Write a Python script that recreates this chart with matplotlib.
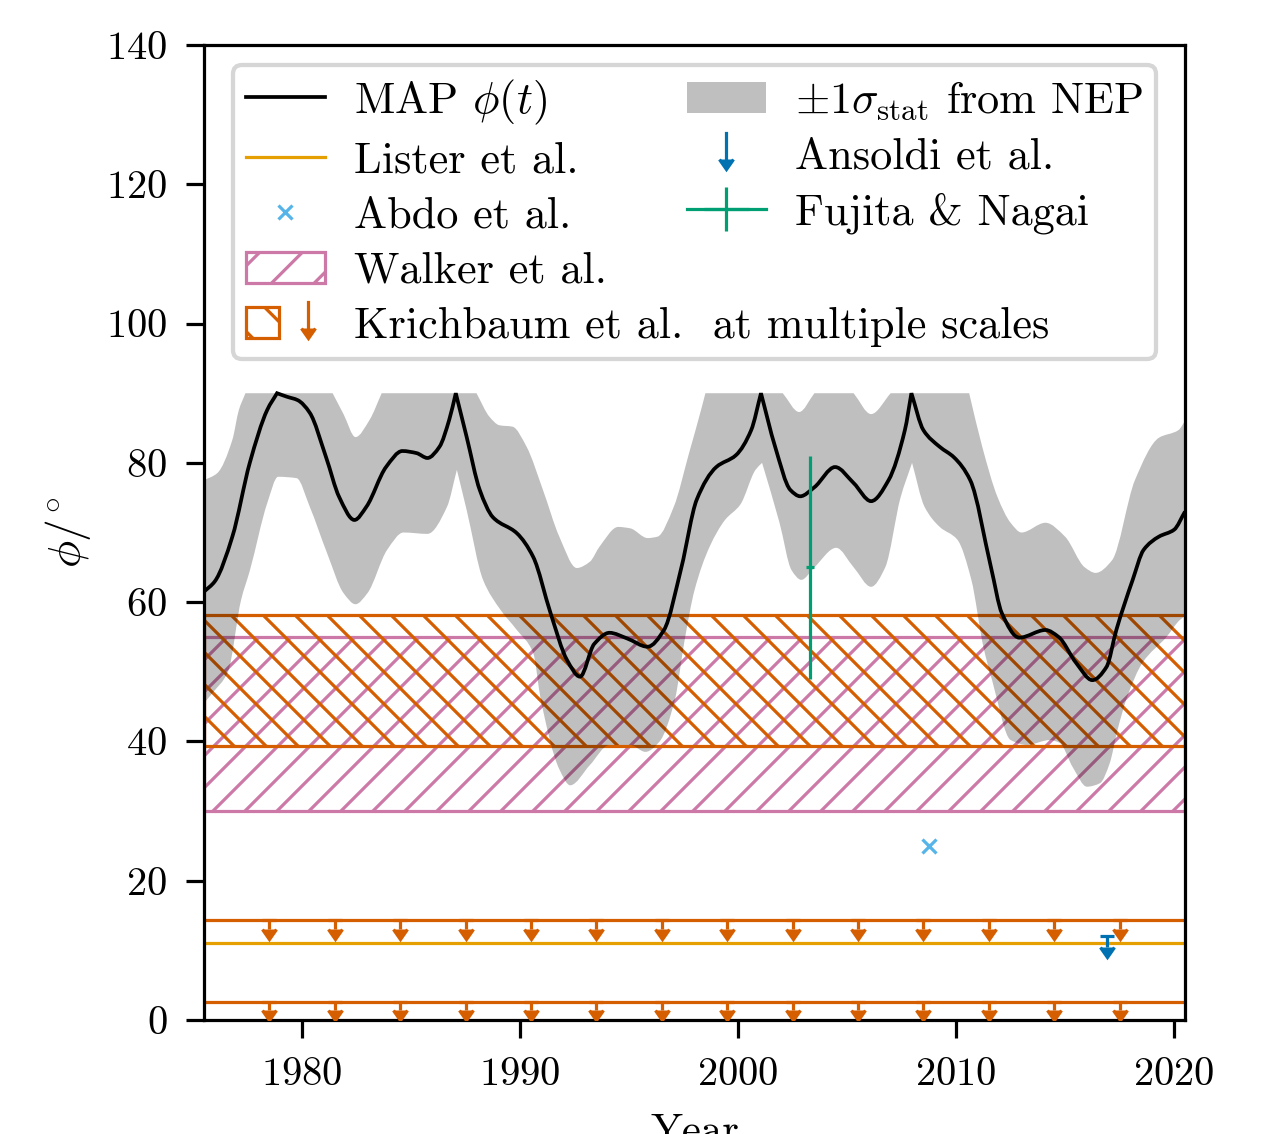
import numpy as np
import matplotlib
matplotlib.use("Agg")
import matplotlib.pyplot as plt
import matplotlib.lines as mlines
import matplotlib.patches as mpatches
from matplotlib.path import Path
from matplotlib.legend_handler import HandlerBase, HandlerTuple

# ---------------- data ----------------
map_years = [1975.5, 1976.0, 1976.8, 1977.6, 1978.4, 1978.85, 1979.3, 1979.8, 1980.35, 1981.1,
             1981.7, 1982.4, 1982.95, 1983.85, 1984.6, 1985.25, 1985.75, 1986.3, 1986.75, 1987.05,
             1987.55, 1988.15, 1988.75, 1989.85, 1990.6, 1991.4, 1992.15, 1992.75, 1993.4, 1994.1,
             1994.9, 1995.85, 1996.6, 1997.4, 1998.1, 1999.0, 1999.9, 2000.6, 2001.05, 2001.7,
             2002.4, 2002.85, 2003.5, 2004.45, 2005.3, 2006.1, 2006.9, 2007.65, 2007.95, 2008.5,
             2009.25, 2009.9, 2010.65, 2011.6, 2012.1, 2012.9, 2014.1, 2014.7, 2015.5, 2016.25,
             2016.9, 2017.35, 2018.1, 2018.6, 2019.3, 2020.0, 2020.5]
map_phi = [61.5, 63.0, 69.4, 80.0, 87.6, 90.0, 89.5, 89.0, 87.2, 80.8,
           75.1, 71.8, 73.7, 79.4, 81.7, 81.4, 80.7, 82.3, 86.2, 90.0,
           83.7, 76.1, 72.2, 69.9, 66.5, 58.4, 51.7, 49.3, 54.0, 55.6,
           54.8, 53.6, 56.0, 65.0, 74.7, 79.4, 81.1, 84.7, 90.0, 82.3,
           76.1, 75.2, 76.5, 79.4, 77.1, 74.5, 77.5, 84.7, 90.0, 84.7,
           82.3, 80.8, 77.5, 65.0, 58.4, 54.9, 56.0, 55.0, 51.3, 48.8,
           50.7, 56.0, 63.2, 67.5, 69.4, 70.4, 73.0]

upper_years = [1975.5, 1976.1, 1976.8, 1977.1, 1977.4, 1981.4, 1981.9, 1982.45, 1983.1, 1983.65,
               1988.0, 1988.6, 1989.05, 1989.65, 1990.3, 1991.05, 1991.8, 1992.6, 1993.2, 1993.65,
               1994.5, 1995.05, 1995.85, 1996.3, 1997.05, 1997.75, 1998.3, 1998.5, 2002.05, 2002.8,
               2003.5, 2005.3, 2006.1, 2007.0, 2010.6, 2011.2, 2011.9, 2012.5, 2013.0, 2014.1,
               2015.0, 2015.9, 2016.4, 2017.15, 2018.2, 2019.3, 2020.2, 2020.5]
upper_phi = [77.5, 78.5, 83.3, 87.6, 90.0, 90.0, 87.0, 83.7, 86.2, 90.0,
             90.0, 86.6, 85.4, 85.2, 82.3, 76.1, 69.4, 64.9, 65.8, 68.0,
             70.8, 70.6, 69.2, 69.4, 73.7, 81.4, 87.6, 90.0, 90.0, 87.3,
             90.0, 90.0, 87.0, 90.0, 90.0, 82.3, 75.1, 71.4, 70.0, 71.4,
             69.4, 65.0, 64.2, 66.0, 77.5, 83.6, 84.7, 86.0]

lower_years = [1975.5, 1975.9, 1976.6, 1977.2, 1977.6, 1978.4, 1978.9, 1979.75, 1980.35, 1981.15,
               1981.9, 1982.45, 1983.0, 1983.9, 1984.65, 1985.75, 1986.65, 1987.1, 1987.55, 1988.3,
               1989.1, 1989.85, 1990.6, 1990.95, 1991.8, 1992.3, 1993.2, 1994.1, 1995.05, 1995.75,
               1996.4, 1997.1, 1997.55, 1998.0, 1998.7, 1999.4, 2000.1, 2000.8, 2001.1, 2001.9,
               2002.45, 2002.9, 2003.5, 2004.5, 2005.3, 2006.1, 2006.75, 2007.45, 2007.98, 2008.55,
               2009.25, 2010.05, 2010.7, 2011.25, 2011.65, 2012.5, 2013.25, 2014.3, 2014.75, 2015.35,
               2016.0, 2016.6, 2017.05, 2017.4, 2017.85, 2018.55, 2019.65, 2020.25, 2020.5]
lower_phi = [45.5, 47.0, 50.0, 60.3, 64.5, 74.2, 78.0, 77.8, 73.7, 67.0,
             61.3, 59.7, 61.3, 67.5, 70.0, 69.8, 73.7, 79.0, 73.2, 63.2,
             58.9, 56.0, 52.7, 46.0, 36.0, 33.7, 36.6, 39.5, 39.5, 38.5,
             40.0, 46.0, 54.6, 61.7, 68.0, 71.8, 74.0, 79.0, 80.0, 71.4,
             64.6, 63.2, 65.0, 67.8, 65.0, 62.2, 65.0, 75.0, 80.0, 73.7,
             70.8, 69.0, 63.2, 53.6, 48.8, 40.2, 39.5, 40.2, 39.8, 36.3,
             33.5, 34.0, 36.9, 41.6, 46.4, 51.3, 55.0, 57.4, 58.0]
lower_cusp_years = [1987.1, 2001.1, 2007.98]

lister_phi = 11.0
abdo_year, abdo_phi = 2008.75, 25.0
walker_range = (30.0, 55.0)
krich_range = (39.4, 58.2)
krich_limits = [14.4, 2.6]
krich_arrow_len = [1.3, 1.2]
krich_arrow_years = [1978.5, 1981.5, 1984.5, 1987.5, 1990.5, 1993.5, 1996.5,
                     1999.5, 2002.5, 2005.5, 2008.5, 2011.5, 2014.5, 2017.5]
ansoldi_year, ansoldi_phi, ansoldi_len = 2016.9, 12.0, 1.5
fujita_year, fujita_phi, fujita_err, fujita_xerr = 2003.3, 65.0, 16.0, 0.2

x_ticks = [1980, 1990, 2000, 2010, 2020]
y_ticks = [0, 20, 40, 60, 80, 100, 120, 140]

# ---------------- style ----------------
DPI = 384
plt.rcParams.update({
    "font.family": ["cmr10", "DejaVu Serif"],
    "mathtext.fontset": "cm",
    "axes.formatter.use_mathtext": True,
    "font.size": 8,
    "xtick.labelsize": 7.6,
    "ytick.labelsize": 7.6,
    "axes.linewidth": 0.6,
    "xtick.major.width": 0.6,
    "ytick.major.width": 0.6,
    "xtick.major.size": 3.4,
    "ytick.major.size": 3.4,
    "hatch.linewidth": 0.6,
})

C_LISTER = "#e69f00"
C_ABDO = "#56b4e9"
C_ANSOLDI = "#0072b2"
C_FUJITA = "#009e73"
C_WALKER = "#cc79a7"
C_KRICH = "#d55e00"
LW = 0.6
H_WALKER = "////"
H_KRICH = "\\\\\\\\"


def smooth_vertices(xs, ys, cusp_mask):
    """Piecewise cubic (Bezier) through the given points, monotone between them,
    with one-sided tangents at the marked cusp points."""
    xs = np.asarray(xs, float)
    ys = np.asarray(ys, float)
    n = len(xs)
    h = np.diff(xs)
    d = np.diff(ys) / h
    m_in = np.zeros(n)
    m_out = np.zeros(n)
    for i in range(n):
        if i == 0:
            m_in[i] = m_out[i] = d[0]
        elif i == n - 1:
            m_in[i] = m_out[i] = d[-1]
        elif cusp_mask[i]:
            m_in[i], m_out[i] = d[i - 1], d[i]
        elif d[i - 1] * d[i] <= 0:
            m_in[i] = m_out[i] = 0.0
        else:
            w1 = 2 * h[i] + h[i - 1]
            w2 = h[i] + 2 * h[i - 1]
            m_in[i] = m_out[i] = (w1 + w2) / (w1 / d[i - 1] + w2 / d[i])
    verts = [(xs[0], ys[0])]
    for i in range(n - 1):
        verts.append((xs[i] + h[i] / 3, ys[i] + m_out[i] * h[i] / 3))
        verts.append((xs[i + 1] - h[i] / 3, ys[i + 1] - m_in[i + 1] * h[i] / 3))
        verts.append((xs[i + 1], ys[i + 1]))
    return verts


fig = plt.figure(figsize=(1285 / DPI, 1134 / DPI), dpi=DPI)
ax = fig.add_axes([204 / 1285, 1 - 1020 / 1134, 981 / 1285, 975 / 1134])

# hatched bands
ax.axhspan(*walker_range, facecolor="none", edgecolor=C_WALKER, hatch=H_WALKER, lw=LW, zorder=1)
ax.axhspan(*krich_range, facecolor="none", edgecolor=C_KRICH, hatch=H_KRICH, lw=LW, zorder=1)

# grey band (translucent, over hatches)
up_v = smooth_vertices(upper_years, upper_phi, np.asarray(upper_phi) >= 90.0)
lo_v = smooth_vertices(lower_years, lower_phi,
                       np.isin(np.asarray(lower_years), lower_cusp_years))
band_verts = up_v + lo_v[::-1] + [up_v[0]]
band_codes = ([Path.MOVETO] + [Path.CURVE4] * (len(up_v) - 1) + [Path.LINETO]
              + [Path.CURVE4] * (len(lo_v) - 1) + [Path.CLOSEPOLY])
band = mpatches.PathPatch(Path(band_verts, band_codes), facecolor="black", alpha=0.25,
                          lw=0, zorder=2, transform=ax.transData)
ax.add_patch(band)

# MAP curve
map_v = smooth_vertices(map_years, map_phi, np.asarray(map_phi) >= 90.0)
map_codes = [Path.MOVETO] + [Path.CURVE4] * (len(map_v) - 1)
ax.add_patch(mpatches.PathPatch(Path(map_v, map_codes), facecolor="none", edgecolor="black",
                                lw=0.7, zorder=3, transform=ax.transData))

# horizontal lines
ax.axhline(lister_phi, color=C_LISTER, lw=LW, zorder=2)
for v in krich_limits:
    ax.axhline(v, color=C_KRICH, lw=LW, zorder=2)


def limit_arrows(xs, ys, lens, color, z):
    eb = ax.errorbar(xs, ys, yerr=lens, uplims=True, fmt="none", ecolor=color, color=color,
                     elinewidth=LW, capsize=1.25, capthick=LW, zorder=z)
    for cl in eb[1]:
        cl.set_color(color)
        cl.set_markerfacecolor(color)
        cl.set_markeredgecolor(color)
    return eb


for v, le in zip(krich_limits, krich_arrow_len):
    limit_arrows(krich_arrow_years, [v] * len(krich_arrow_years), le, C_KRICH, 3)

# points
ax.plot([abdo_year], [abdo_phi], "x", color=C_ABDO, ms=2.6, mew=0.6, zorder=4)
limit_arrows([ansoldi_year], [ansoldi_phi], ansoldi_len, C_ANSOLDI, 4)
fuj = ax.errorbar([fujita_year], [fujita_phi], yerr=fujita_err, xerr=fujita_xerr,
                  color=C_FUJITA, lw=LW, elinewidth=LW, capsize=0, zorder=4)

ax.set_xlim(1975.5, 2020.5)
ax.set_ylim(0, 140)
ax.set_xticks(x_ticks)
ax.set_yticks(y_ticks)
ax.set_xlabel("Year")
ax.set_ylabel(r"$\phi/^{\circ}$", labelpad=2.5, fontsize=8.5)


# ---------------- legend ----------------
class ArrowProxy:
    def __init__(self, color):
        self.color = color


class ArrowHandler(HandlerBase):
    def create_artists(self, legend, orig_handle, xdescent, ydescent, width, height,
                       fontsize, trans):
        x = -xdescent + width / 2
        yc = -ydescent + height / 2
        ms = 2.5
        top = yc + 3.8
        tip = yc - 3.0
        base = tip + 0.75 * ms
        shaft = mlines.Line2D([x, x], [top, base], color=orig_handle.color, lw=LW,
                              transform=trans)
        head = mlines.Line2D([x], [base], marker=mlines.CARETDOWNBASE, ms=ms, mew=LW,
                             color=orig_handle.color, mfc=orig_handle.color,
                             linestyle="none", transform=trans)
        return [shaft, head]


LEG_FS = 8.3
h_map = mlines.Line2D([], [], color="black", lw=0.7)
h_lister = mlines.Line2D([], [], color=C_LISTER, lw=LW)
h_abdo = mlines.Line2D([], [], color=C_ABDO, marker="x", ms=2.6, mew=0.6, linestyle="none")
h_walker = mpatches.Patch(facecolor="none", edgecolor=C_WALKER, hatch="///", lw=LW)
h_krich = (mpatches.Patch(facecolor="none", edgecolor=C_KRICH, hatch="\\\\\\", lw=LW),
           ArrowProxy(C_KRICH))
h_band = mpatches.Patch(color="black", alpha=0.25, lw=0)
h_ansoldi = ArrowProxy(C_ANSOLDI)
h_blank = mpatches.Patch(visible=False)

handles = [h_map, h_lister, h_abdo, h_walker, h_krich, h_band, h_ansoldi, fuj, h_blank]
labels = [r"MAP $\phi(t)$", "Lister et al.", "Abdo et al.", "Walker et al.",
          "Krichbaum et al.  at multiple scales",
          r"$\pm 1\sigma_{\rm stat}$ from NEP", "Ansoldi et al.", "Fujita & Nagai", ""]
hmap = {tuple: HandlerTuple(ndivide=None), ArrowProxy: ArrowHandler()}
BASE_CS = 1.8


def make_legend(colsp):
    lg = ax.legend(handles, labels, loc="upper center", ncol=2, columnspacing=colsp,
                   handler_map=hmap, fontsize=LEG_FS, labelspacing=0.34, borderpad=0.28,
                   handlelength=1.8, handletextpad=0.65, borderaxespad=0.45)
    lg.get_frame().set_linewidth(0.8)
    return lg


leg = make_legend(BASE_CS)
fig.canvas.draw()
r = fig.canvas.get_renderer()
w = [t.get_window_extent(r).width for t in leg.get_texts()]
fs_px = LEG_FS * DPI / 72
extra = w[4] - max(w[:4])
leg.remove()
leg = make_legend(BASE_CS - extra / fs_px)

fig.savefig("out.png", dpi=DPI)
